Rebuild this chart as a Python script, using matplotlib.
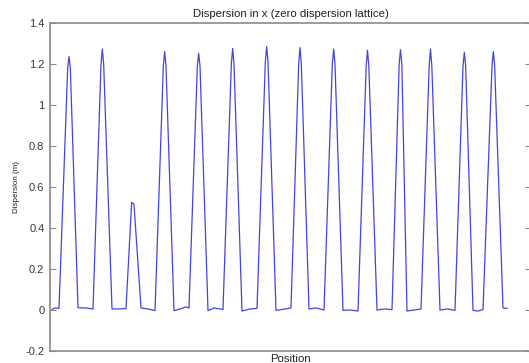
import matplotlib
matplotlib.use("Agg")
import matplotlib.pyplot as plt

plt.rcParams['font.family'] = ['Liberation Sans', 'DejaVu Sans']

position = [
    0.6, 1.5, 2.7,
    5.3, 5.7, 6.1,
    8.4, 10.8, 12.9,
    15.3, 15.7, 16.1,
    18.6, 20.7, 22.8,
    24.5, 25.2,
    27.3, 29.4, 31.5,
    34.0, 34.4, 34.8,
    37.2, 39.0, 40.8, 41.7,
    44.2, 44.6, 45.0,
    47.4, 49.2, 51.9,
    54.4, 54.8, 55.2,
    57.6, 60.0, 62.1,
    64.6, 65.0, 65.4,
    67.8, 70.5, 72.3,
    74.6, 75.0, 75.4,
    77.7, 79.8, 82.2,
    84.7, 85.1, 85.5,
    87.9, 90.0, 92.4,
    94.85, 95.25, 95.65,
    98.1, 100.5, 102.6,
    104.75, 105.15, 105.55,
    107.1, 109.2, 111.3,
    113.75, 114.15, 114.55,
    117.0, 119.4, 121.5,
    123.9, 124.3, 124.7,
    126.9, 128.4, 129.9,
    132.6, 133.0, 133.4,
    135.9, 137.1,
]

dispersion = [
    0.003, 0.010, 0.008,
    1.18, 1.236, 1.18,
    0.011, 0.010, 0.005,
    1.20, 1.273, 1.20,
    0.005, 0.005, 0.007,
    0.525, 0.515,
    0.010, 0.005, -0.003,
    1.19, 1.260, 1.19,
    -0.003, 0.005, 0.015, 0.010,
    1.19, 1.252, 1.19,
    -0.003, 0.010, 0.003,
    1.20, 1.276, 1.20,
    -0.005, 0.005, 0.008,
    1.21, 1.285, 1.21,
    -0.002, 0.005, 0.010,
    1.20, 1.280, 1.20,
    0.005, 0.010, 0.000,
    1.20, 1.272, 1.20,
    -0.002, 0.000, -0.005,
    1.19, 1.267, 1.19,
    0.000, 0.005, 0.002,
    1.20, 1.270, 1.20,
    -0.005, 0.000, 0.005,
    1.19, 1.273, 1.19,
    0.000, 0.005, -0.002,
    1.19, 1.257, 1.19,
    -0.002, -0.005, 0.002,
    1.19, 1.260, 1.19,
    0.010, 0.008,
]

yticks = [-0.2, 0, 0.2, 0.4, 0.6, 0.8, 1, 1.2, 1.4]
ytick_labels = ["-0.2", "0", "0.2", "0.4", "0.6", "0.8", "1", "1.2", "1.4"]

W, H = 529, 363
fig = plt.figure(figsize=(W / 100, H / 100), dpi=100)
left, right, top, bottom = 50, 531, 23, 351
ax = fig.add_axes([left / W, (H - bottom) / H, (right - left) / W, (bottom - top) / H])

ax.plot(position, dispersion, color='#4444dd', linewidth=0.9)

ax.set_xlim(0, 144.3)
ax.set_ylim(-0.2, 1.4)
ax.set_yticks(yticks)
ax.set_yticklabels(ytick_labels)
ax.set_xticks([])

for s in ax.spines.values():
    s.set_color('#8a8a8a')
    s.set_linewidth(1.2)

ax.tick_params(axis='y', direction='in', length=4, width=0.8, color='#8a8a8a',
               labelsize=8, labelcolor='#383838', right=True, pad=4)

ax.set_title("Dispersion in x (zero dispersion lattice)", fontsize=8.2, color='#202020', pad=4)
ax.set_ylabel("Dispersion (m)", fontsize=5.8, color='#202020', labelpad=4)
ax.set_xlabel("Position", fontsize=8.2, color='#202020', labelpad=2.5)

fig.savefig("out.png", dpi=100)
